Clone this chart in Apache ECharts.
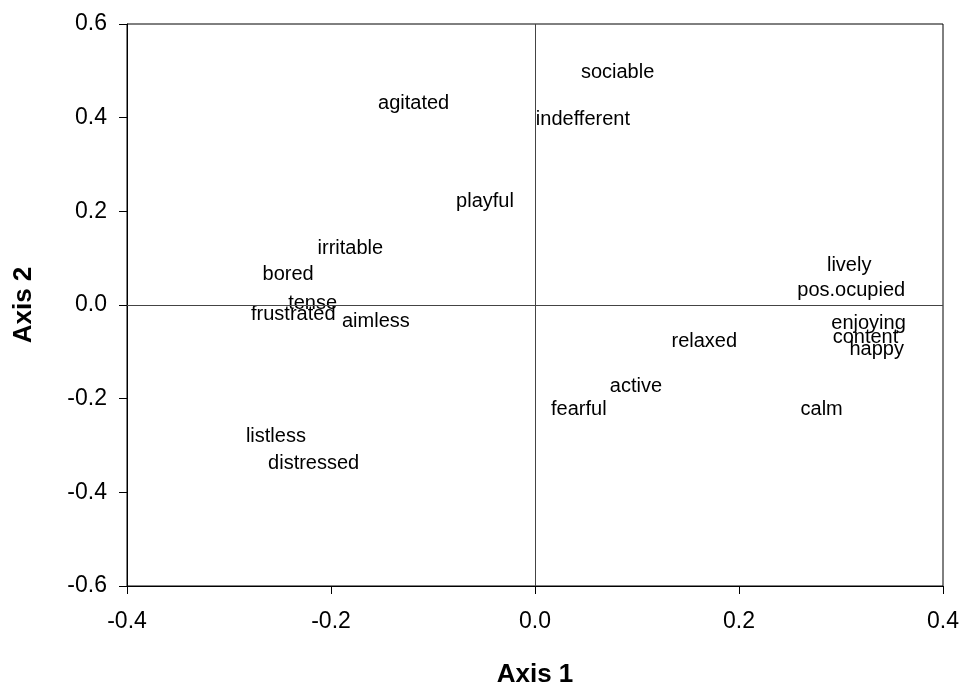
<!DOCTYPE html>
<html><head><meta charset="utf-8">
<script src="https://cdn.jsdelivr.net/npm/echarts@6/dist/echarts.min.js"></script>
<style>html,body{margin:0;padding:0;background:#fff;overflow:hidden}#c{width:962px;height:693px}</style>
</head><body><div id="c"></div>
<script>
const names = ['sociable','agitated','indefferent','playful','irritable','bored','tense','frustrated','aimless','listless','distressed','active','fearful','relaxed','calm','lively','pos.ocupied','enjoying','content','happy'];
const axis1 = [0.081,-0.119,0.047,-0.049,-0.181,-0.242,-0.218,-0.237,-0.156,-0.254,-0.217,0.099,0.043,0.166,0.281,0.308,0.310,0.327,0.324,0.335];
const axis2 = [0.497,0.431,0.397,0.220,0.121,0.066,0.004,-0.021,-0.036,-0.281,-0.338,-0.175,-0.224,-0.078,-0.224,0.085,0.032,-0.040,-0.070,-0.095];
const xTicks = [-0.4,-0.2,0.0,0.2,0.4];
const yTicks = [-0.6,-0.4,-0.2,0.0,0.2,0.4,0.6];

const data = names.map((n,i)=>({name:n, value:[axis1[i], axis2[i]]}));
const chart = echarts.init(document.getElementById('c'));
const font = 'Liberation Sans, Arial, sans-serif';
chart.setOption({
  animation:false,
  grid:{left:127, right:19, top:24, bottom:101, show:true, borderColor:'#000', borderWidth:1, backgroundColor:'transparent'},
  xAxis:{type:'value', min:xTicks[0], max:xTicks[xTicks.length-1], interval:0.2,
    name:'Axis 1', nameLocation:'middle', nameGap:76,
    nameTextStyle:{fontFamily:font, fontSize:26, fontWeight:'bold', color:'#000'},
    axisLine:{onZero:false, lineStyle:{color:'#000'}},
    axisTick:{show:true, inside:false, length:8, lineStyle:{color:'#000'}},
    axisLabel:{margin:24, fontFamily:font, fontSize:23, color:'#000', formatter:v=>v.toFixed(1)},
    splitLine:{show:false}},
  yAxis:{type:'value', min:yTicks[0], max:yTicks[yTicks.length-1], interval:0.2,
    name:'Axis 2', nameLocation:'middle', nameGap:90, nameRotate:90,
    nameTextStyle:{fontFamily:font, fontSize:26, fontWeight:'bold', color:'#000'},
    axisLine:{onZero:false, lineStyle:{color:'#000'}},
    axisTick:{show:true, inside:false, length:8, lineStyle:{color:'#000'}},
    axisLabel:{margin:20, fontFamily:font, fontSize:23, color:'#000', formatter:v=>v.toFixed(1)},
    splitLine:{show:false}},
  series:[{
    type:'scatter', data:data, symbolSize:0, itemStyle:{color:'#000', opacity:1},
    label:{show:true, position:'inside', formatter:p=>p.name, fontFamily:font, fontSize:20, color:'#000', opacity:1, textBorderWidth:0},
    emphasis:{disabled:true},
    markLine:{silent:true, symbol:'none', label:{show:false}, lineStyle:{color:'#444', width:1, type:'solid', opacity:1},
      data:[{xAxis:0},{yAxis:0}]}
  }]
});
</script></body></html>
